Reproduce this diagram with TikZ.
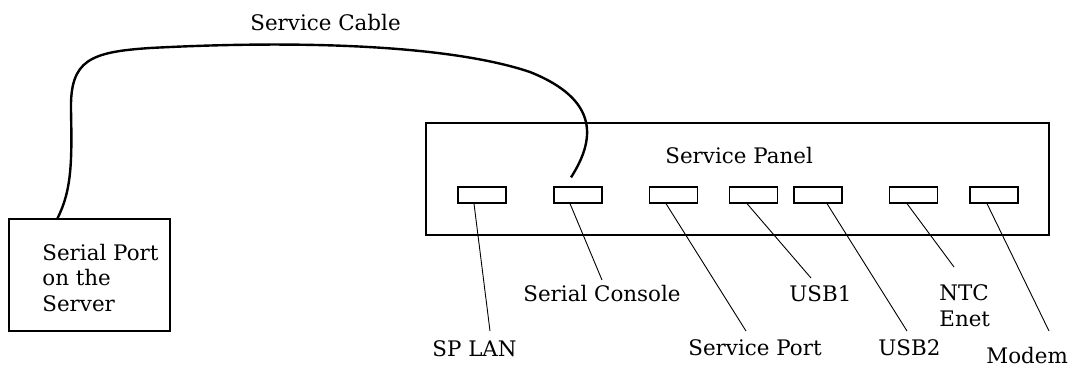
\documentclass[tikz,border=0pt]{standalone}
\usepackage{fontspec}
\setmainfont{DejaVu Serif}
\begin{document}
\begin{tikzpicture}[x=0.5pt,y=-0.5pt,
    every node/.style={font=\fontsize{10.7}{12.6}\selectfont},
    box/.style={draw,line width=0.6pt,inner sep=0pt},
    port/.style={box,minimum width=24pt,minimum height=8pt},
    lbl/.style={anchor=base west,inner sep=0pt,align=left},
    leader/.style={line width=0.45pt},
    cable/.style={line width=1.2pt}]
    \useasboundingbox (0,0) rectangle (1076,366);
    % server
    \node[box,minimum width=80.5pt,minimum height=56pt] (server) at (89.5,275) {};
    \node[lbl] (servertext) at (42,311) {Serial Port\\on the\\Server};
    % service panel and its ports
    \node[box,minimum width=311.5pt,minimum height=56pt] (panel) at (737.5,179) {};
    \node[lbl] (paneltext) at (665,163) {Service Panel};
    \node[port] (lanport) at (482,195) {};
    \node[port] (consoleport) at (578,195) {};
    \node[port] (sportport) at (673.5,195) {};
    \node[port] (usbaport) at (753.5,195) {};
    \node[port] (usbbport) at (818,195) {};
    \node[port] (ntcport) at (913.5,195) {};
    \node[port] (modemport) at (994,195) {};
    % labels
    \node[lbl] (lan) at (432,356) {SP LAN};
    \node[lbl] (console) at (523,301) {Serial Console};
    \node[lbl] (sport) at (688,355) {Service Port};
    \node[lbl] (usba) at (789,301) {USB1};
    \node[lbl] (usbb) at (878,355) {USB2};
    \node[lbl] (ntc) at (939,326) {NTC\\Enet};
    \node[lbl] (modem) at (986,363) {Modem};
    \node[lbl] (cabletext) at (250,30) {Service Cable};
    % leaders
    \draw[leader] ([xshift=-4pt]lanport.south) -- ([shift={(29pt,12.5pt)}]lan.base west);
    \draw[leader] ([xshift=-4pt]consoleport.south) -- ([shift={(39.5pt,10.5pt)}]console.base west);
    \draw[leader] ([xshift=-3.75pt]sportport.south) -- ([shift={(29pt,12pt)}]sport.base west);
    \draw[leader] ([xshift=-3.25pt]usbaport.south) -- ([shift={(11pt,11.5pt)}]usba.base west);
    \draw[leader] ([xshift=4.5pt]usbbport.south) -- ([shift={(14.5pt,12pt)}]usbb.base west);
    \draw[leader] ([xshift=-3.25pt]ntcport.south) -- ([shift={(7.5pt,17.5pt+12pt)}]ntc.base west);
    \draw[leader] ([xshift=-3.5pt]modemport.south) -- ([shift={(31.5pt,16pt)}]modem.base west);
    % cable
    \draw[cable] ([xshift=24.5pt]server.north west) .. controls (72,190) and (72,160) .. (71,110)
        .. controls (70,60) and (90,52) .. (150,48)
        .. controls (300,40) and (450,45) .. (530,72)
        .. controls (600,100) and (595,140) .. ([shift={(-3.5pt,4.5pt)}]consoleport.north);
\end{tikzpicture}
\end{document}
